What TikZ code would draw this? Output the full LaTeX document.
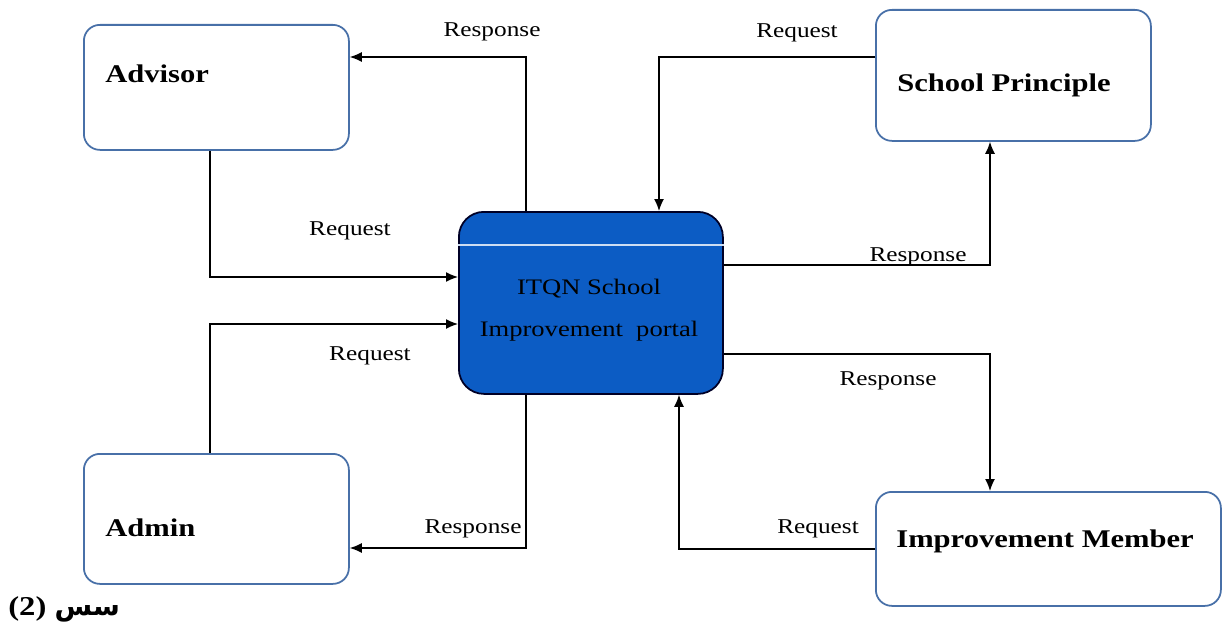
\documentclass[tikz,border=0pt]{standalone}
\usepackage{fontspec}
\setmainfont[FakeStretch=1.2]{Liberation Serif}
\newfontfamily\arabicfont[Script=Arabic]{DejaVu Sans}
\TeXXeTstate=1
\usepackage{tikz}
\usetikzlibrary{arrows.meta}
\definecolor{boxline}{RGB}{72,112,168}
\definecolor{portalblue}{RGB}{12,92,196}
\tikzset{
  /tikz/.cd,
  actor/.style={draw=boxline,line width=1pt,rounded corners=0.32cm,fill=white,anchor=north west},
  title/.style={font=\fontsize{14.5}{17}\selectfont\bfseries,anchor=west,inner sep=0pt}
}

\begin{document}
\begin{tikzpicture}[flow/.style={line width=0.8pt,-{Latex[length=2.4mm,width=2mm]}},
                    flowtext/.style={font=\fontsize{12}{14}\selectfont,inner sep=1pt}]
      \useasboundingbox (0,0) rectangle (24.46,-12.56);

      % actors round the portal
      \node[actor,minimum width=5.3cm,minimum height=2.5cm] (advisor) at (1.66,-0.48) {};
      \node[actor,minimum width=5.5cm,minimum height=2.62cm] (principle) at (17.5,-0.18) {};
      \node[actor,minimum width=5.3cm,minimum height=2.6cm] (admin) at (1.66,-9.06) {};
      \node[actor,minimum width=6.9cm,minimum height=2.28cm] (member) at (17.5,-9.82) {};

      \node[title] (advisortxt) at (2.1,-1.48) {Advisor};
      \node[title] (principletxt) at (17.94,-1.7) {School Principle};
      \node[title] (admintxt) at (2.1,-10.56) {Admin};
      \node[title] (membertxt) at (17.92,-10.82) {Improvement Member};

      % the portal
      \node[draw=black!85!blue,line width=1pt,fill=portalblue,rounded corners=0.5cm,anchor=north west,
            minimum width=5.28cm,minimum height=3.64cm] (portal) at (9.16,-4.22) {};
      \draw[white!80!portalblue,line width=0.8pt] ([yshift=-0.68cm]portal.north west) -- ([yshift=-0.68cm]portal.north east);
      \node[align=center,font=\fontsize{12.6}{15}\selectfont,inner sep=0pt] (portaltxt) at (11.78,-6.2)
            {ITQN School\\[0.32cm]Improvement~ portal};

      % flows
      \draw[flow] ([xshift=1.36cm]portal.north west) |- ([yshift=-0.66cm]advisor.north east);
      \draw[flow] ([xshift=2.54cm]advisor.south west) |- ([yshift=-1.32cm]portal.north west);
      \draw[flow] ([xshift=2.54cm]admin.north west) |- ([yshift=-2.26cm]portal.north west);
      \draw[flow] ([xshift=1.36cm]portal.south west) |- ([yshift=-1.9cm]admin.north east);
      \draw[flow] ([yshift=-0.96cm]principle.north west) -| ([xshift=4.02cm]portal.north west);
      \draw[flow] ([yshift=-1.08cm]portal.north east) -| ([xshift=2.3cm]principle.south west);
      \draw[flow] ([yshift=-2.86cm]portal.north east) -| ([xshift=2.3cm]member.north west);
      \draw[flow] ([yshift=-1.16cm]member.north west) -| ([xshift=4.42cm]portal.south west);

      \node[flowtext] (resp1) at (9.84,-0.64) {Response};
      \node[flowtext] (req1) at (7.0,-4.62) {Request};
      \node[flowtext] (req2) at (7.4,-7.12) {Request};
      \node[flowtext] (resp2) at (9.46,-10.58) {Response};
      \node[flowtext] (req3) at (15.94,-0.66) {Request};
      \node[flowtext] (resp3) at (18.36,-5.14) {Response};
      \node[flowtext] (resp4) at (17.76,-7.62) {Response};
      \node[flowtext] (req4) at (16.36,-10.58) {Request};

      \node[anchor=west,inner sep=0pt,font=\fontsize{15.5}{18}\selectfont\bfseries] (caption) at (0.16,-12.18)
            {(2) {\arabicfont\beginR سس\endR}};
\end{tikzpicture}
\end{document}
